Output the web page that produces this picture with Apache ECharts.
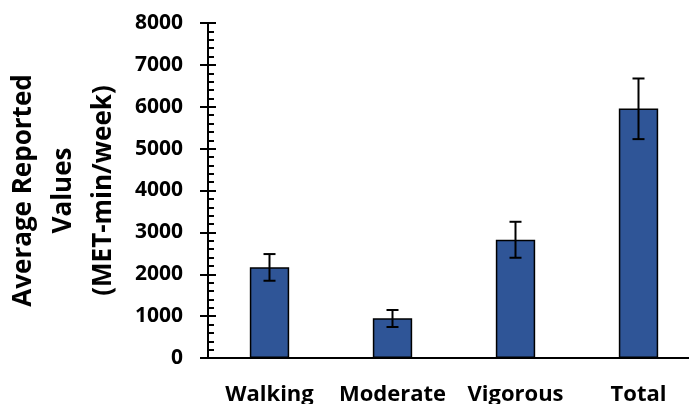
<!DOCTYPE html>
<html>
<head>
<meta charset="utf-8">
<script src="https://cdn.jsdelivr.net/npm/echarts@6/dist/echarts.min.js"></script>
<style>
  html, body { margin: 0; padding: 0; background: #fff; }
  #chart { width: 689px; height: 404px; }
</style>
</head>
<body>
<div id="chart"></div>
<script>
// categories and values
let categories = ['Walking', 'Moderate', 'Vigorous', 'Total'];
let means = [2165, 947, 2823, 5959];
let errLow = [1845, 740, 2394, 5227];
let errHigh = [2482, 1146, 3253, 6675];

let yTicks = [0, 1000, 2000, 3000, 4000, 5000, 6000, 7000, 8000];

let errData = [];
for (let i = 0; i < categories.length; i++) {
    errData.push([i, errLow[i], errHigh[i]]);
}

let font = 'Open Sans';

let option = {
    animation: false,
    grid: { left: 208, top: 23, bottom: 46, width: 492, containLabel: false, outerBoundsMode: 'none' },
    xAxis: {
        type: 'category',
        data: categories,
        axisLine: { lineStyle: { color: '#000', width: 2 } },
        axisTick: { show: false },
        axisLabel: { interval: 0, color: '#000', fontFamily: font, fontWeight: 'bold', fontSize: 22, margin: 26 }
    },
    yAxis: [
        {
            type: 'value',
            min: yTicks[0],
            max: yTicks[yTicks.length - 1],
            interval: 1000,
            splitLine: { show: false },
            axisLine: { show: true, lineStyle: { color: '#000', width: 2 } },
            axisTick: { show: true, inside: true, length: 8, lineStyle: { color: '#000', width: 2 } },
            minorTick: { show: true, splitNumber: 5, length: 6, lineStyle: { color: '#000', width: 2 } },
            axisLabel: { show: false }
        },
        {
            type: 'value',
            min: yTicks[0],
            max: yTicks[yTicks.length - 1],
            interval: 1000,
            position: 'left',
            splitLine: { show: false },
            axisLine: { show: true, lineStyle: { color: '#000', width: 2 } },
            axisTick: { show: true, length: 8, lineStyle: { color: '#000', width: 2 } },
            axisLabel: {
                color: '#000', fontFamily: font, fontWeight: 'bold', fontSize: 21, margin: 25,
                formatter: function (v) { return String(v); }
            },
            name: 'Average Reported\nValues\n(MET-min/week)',
            nameLocation: 'middle',
            nameRotate: 90,
            nameGap: 84,
            nameTextStyle: { color: '#000', fontFamily: font, fontWeight: 'bold', fontSize: 26, lineHeight: 40 }
        }
    ],
    series: [
        {
            type: 'bar',
            data: means,
            barWidth: '32%',
            itemStyle: { color: '#2F5597', borderColor: '#000', borderWidth: 1.5 }
        },
        {
            type: 'custom',
            data: errData,
            z: 10,
            renderItem: function (params, api) {
                let lo = api.coord([api.value(0), api.value(1)]);
                let hi = api.coord([api.value(0), api.value(2)]);
                let half = 6;
                let style = { stroke: '#000', lineWidth: 2 };
                return {
                    type: 'group',
                    children: [
                        { type: 'line', shape: { x1: hi[0], y1: hi[1], x2: lo[0], y2: lo[1] }, style: style },
                        { type: 'line', shape: { x1: hi[0] - half, y1: hi[1], x2: hi[0] + half, y2: hi[1] }, style: style },
                        { type: 'line', shape: { x1: lo[0] - half, y1: lo[1], x2: lo[0] + half, y2: lo[1] }, style: style }
                    ]
                };
            }
        }
    ]
};

let chart = echarts.init(document.getElementById('chart'));
chart.setOption(option);
</script>
</body>
</html>
